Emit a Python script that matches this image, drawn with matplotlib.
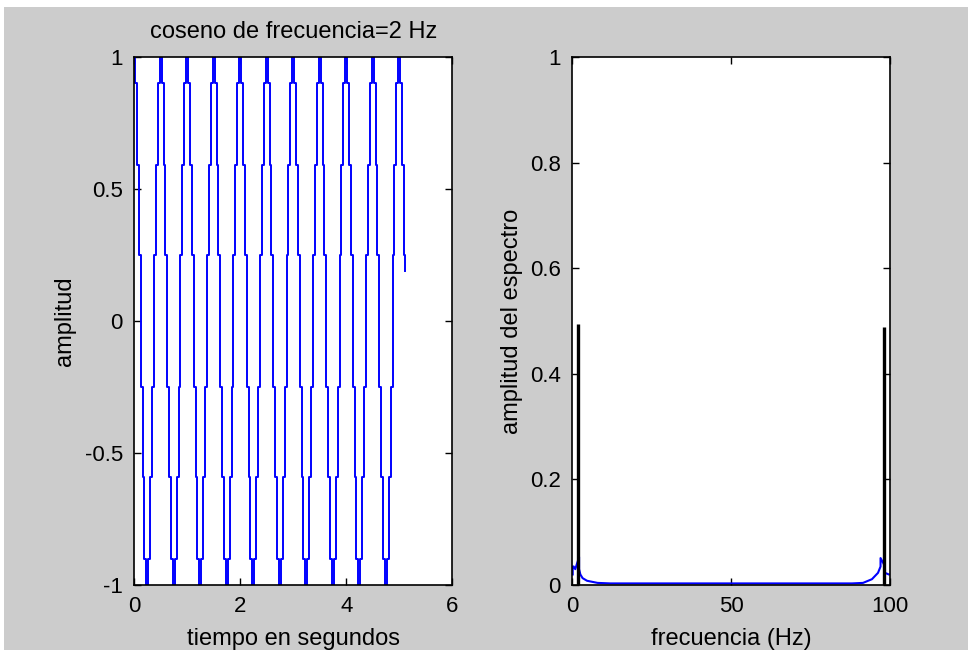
import matplotlib.pyplot as plt
from matplotlib.patches import Rectangle

# left panel: 2 Hz cosine, peaks every 0.5 s
peak_times = [0.0, 0.5, 1.0, 1.5, 2.0, 2.5, 3.0, 3.5, 4.0, 4.5]
# one period as drawn in the picture: near-vertical runs between these levels,
# each run at a fixed offset (s) from the peak
run_offsets = [0.018, 0.056, 0.09, 0.125, 0.16, 0.194, 0.232,
               0.268, 0.306, 0.34, 0.375, 0.41, 0.444, 0.482]
run_levels = [1.0, 0.9, 0.59, 0.25, -0.25, -0.59, -0.9, -1.0,
              -0.9, -0.59, -0.25, 0.25, 0.59, 0.9, 1.0]
# last bit after the final peak at 5 s
tail_offsets = [5.018, 5.056, 5.09, 5.11]
tail_levels = [1.0, 0.9, 0.59, 0.25, 0.19]

# right panel: spectrum
peak_f = [1.95, 98.05]
peak_amp = [0.494, 0.489]
leak_f = [0.2, 0.2, 0.5, 1.0, 2.2, 2.2, 2.6, 3.3, 4.7, 8.0, 12.0, 88.0,
          91.5, 94.3, 96.2, 97.0, 97.0, 98.0, 98.4, 98.4, 99.6]
leak_amp = [0.02, 0.035, 0.035, 0.03, 0.053, 0.03, 0.02, 0.013, 0.008,
            0.004, 0.003, 0.003, 0.004, 0.011, 0.023, 0.035, 0.051, 0.04,
            0.03, 0.023, 0.02]

t = []
x = []
for p in peak_times:
    for k, o in enumerate(run_offsets):
        t += [p + o, p + o]
        x += [run_levels[k], run_levels[k + 1]]
for k, o in enumerate(tail_offsets):
    t += [o, o]
    x += [tail_levels[k], tail_levels[k + 1]]

plt.rcParams['font.family'] = ['Liberation Sans', 'DejaVu Sans']
plt.rcParams['font.size'] = 17
plt.rcParams['xtick.direction'] = 'in'
plt.rcParams['ytick.direction'] = 'in'
plt.rcParams['xtick.major.size'] = 5
plt.rcParams['ytick.major.size'] = 5
plt.rcParams['xtick.top'] = True
plt.rcParams['ytick.right'] = True

gray = '#cccccc'
fig = plt.figure(figsize=(9.68, 6.5), dpi=100, facecolor='white')
fig.patches.append(Rectangle((4/968, 0), 1, 643/650, transform=fig.transFigure,
                             facecolor=gray, edgecolor='none', zorder=-1))

ax1 = fig.add_axes([0.1385, 0.1, 0.3287, 0.8123])
ax1.plot(t, x, color='#0000ff', lw=1.4)
ax1.set_xlim(0, 6)
ax1.set_ylim(-1, 1)
ax1.set_xticks([0, 2, 4, 6])
ax1.set_yticks([-1, -0.5, 0, 0.5, 1])
ax1.set_yticklabels(['-1', '-0.5', '0', '0.5', '1'])
ax1.set_title('coseno de frecuencia=2 Hz', fontsize=17, pad=14)
ax1.set_xlabel('tiempo en segundos', labelpad=8)
ax1.set_ylabel('amplitud', labelpad=6)

ax2 = fig.add_axes([0.591, 0.1, 0.3285, 0.8123])
ax2.plot(leak_f, leak_amp, color='#0000ff', lw=1.5)
ax2.vlines(peak_f, 0, peak_amp, color='black', lw=2.4)
ax2.set_xlim(0, 100)
ax2.set_ylim(0, 1)
ax2.set_xticks([0, 50, 100])
ax2.set_yticks([0, 0.2, 0.4, 0.6, 0.8, 1])
ax2.set_yticklabels(['0', '0.2', '0.4', '0.6', '0.8', '1'])
ax2.set_xlabel('frecuencia (Hz)', labelpad=8)
ax2.set_ylabel('amplitud del espectro', labelpad=5)

for ax in (ax1, ax2):
    for s in ax.spines.values():
        s.set_linewidth(1.2)
        s.set_color('black')
    ax.tick_params(width=1, pad=8, labelsize=16)

plt.savefig('out.png', dpi=100, facecolor=fig.get_facecolor())
